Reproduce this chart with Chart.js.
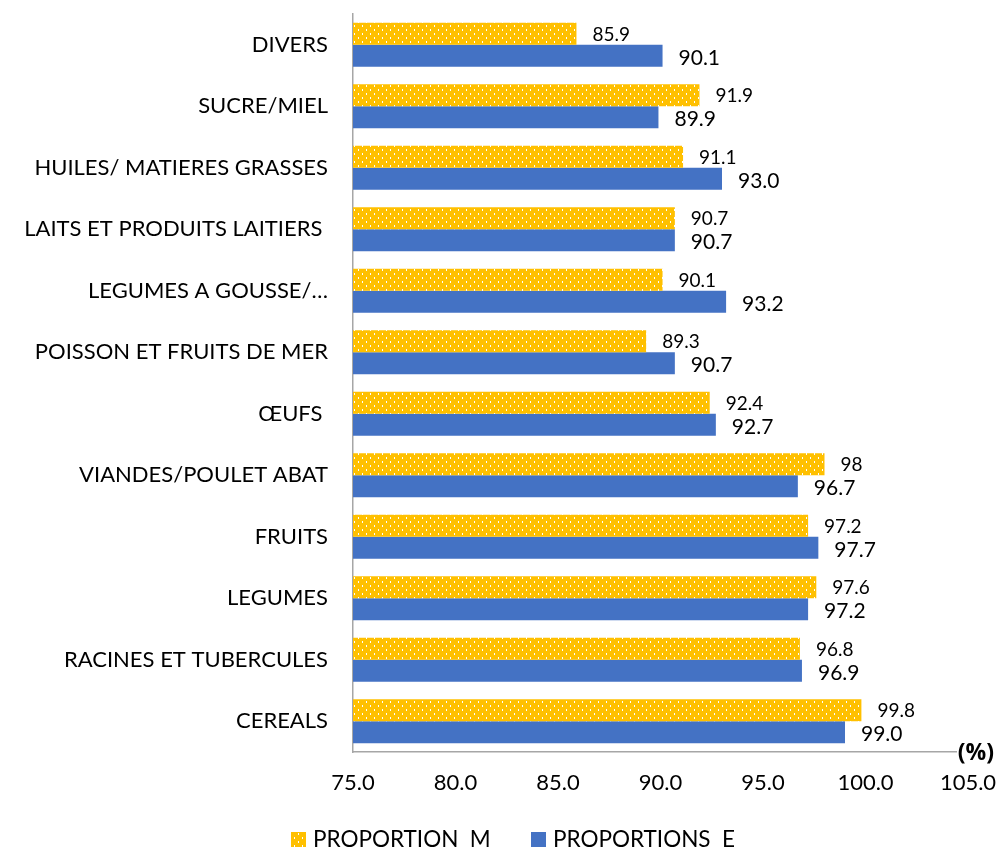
<!DOCTYPE html>
<html>
<head>
<meta charset="utf-8">
<script src="https://cdn.jsdelivr.net/npm/chart.js@4"></script>
<style>
html,body{margin:0;padding:0;background:#fff;}
#wrap{width:996px;height:849px;}
</style>
</head>
<body>
<div id="wrap"><canvas id="c" width="996" height="849"></canvas></div>
<script>
const categories = ["DIVERS","SUCRE/MIEL","HUILES/ MATIERES GRASSES","LAITS ET PRODUITS LAITIERS ","LEGUMES A GOUSSE/…","POISSON ET FRUITS DE MER","ŒUFS ","VIANDES/POULET ABAT","FRUITS","LEGUMES","RACINES ET TUBERCULES","CEREALS"];
const proportionM = [85.9, 91.9, 91.1, 90.7, 90.1, 89.3, 92.4, 98, 97.2, 97.6, 96.8, 99.8];
const proportionE = [90.1, 89.9, 93.0, 90.7, 93.2, 90.7, 92.7, 96.7, 97.7, 97.2, 96.9, 99.0];
const labelsM = ["85.9","91.9","91.1","90.7","90.1","89.3","92.4","98","97.2","97.6","96.8","99.8"];
const labelsE = ["90.1","89.9","93.0","90.7","93.2","90.7","92.7","96.7","97.7","97.2","96.9","99.0"];
const seriesNames = ["PROPORTION  M","PROPORTIONS  E"];
const xTicks = [75,80,85,90,95,100,105];

const FONT = "Lato, 'Open Sans', sans-serif";

function makePattern(){
  const p = document.createElement('canvas');
  p.width = 8; p.height = 8;
  const g = p.getContext('2d');
  g.fillStyle = '#FFC000';
  g.fillRect(0,0,8,8);
  g.fillStyle = '#FFFFFF';
  g.fillRect(2,1,1,2);
  g.fillRect(6,5,1,2);
  return document.getElementById('c').getContext('2d').createPattern(p,'repeat');
}
const pat = makePattern();
const colors = [pat, '#4472C4'];

const labelPlugin = {
  id:'vlabels',
  afterDatasetsDraw(chart){
    const ctx = chart.ctx;
    ctx.save();
    ctx.fillStyle = '#000';
    ctx.textBaseline = 'middle';
    ctx.textAlign = 'left';
    const sets = [[0, labelsM, 19, 1], [1, labelsE, 21, 2]];
    sets.forEach(([di, labs, fs, dy])=>{
      const meta = chart.getDatasetMeta(di);
      ctx.font = fs + 'px ' + FONT;
      meta.data.forEach((bar,i)=>{
        ctx.fillText(labs[i], bar.x + 16, bar.y + dy);
      });
    });
    // (%) unit at end of the x axis
    ctx.fillStyle = '#fff';
    ctx.fillRect(957, chart.chartArea.bottom - 2, 40, 6);
    ctx.fillStyle = '#000';
    ctx.font = "bold 23px 'Open Sans', sans-serif";
    ctx.textAlign = 'right';
    ctx.fillText('(%)', 994, chart.chartArea.bottom + 1);
    // legend
    const ly = 839;
    const items = [[291, 313], [531, 553]];
    ctx.font = '22.5px ' + FONT;
    ctx.textAlign = 'left';
    items.forEach(([bx, tx], k)=>{
      ctx.fillStyle = colors[k];
      ctx.fillRect(bx, ly - 7, 15, 15);
      ctx.fillStyle = '#000';
      ctx.fillText(seriesNames[k], tx, ly + 1);
    });
    ctx.restore();
  }
};

new Chart(document.getElementById('c'), {
  type:'bar',
  data:{
    labels: categories,
    datasets:[
      {label: seriesNames[0], data: proportionM, backgroundColor: colors[0], borderWidth:0},
      {label: seriesNames[1], data: proportionE, backgroundColor: colors[1], borderWidth:0}
    ]
  },
  options:{
    indexAxis:'y',
    responsive:false,
    animation:false,
    devicePixelRatio:1,
    layout:{padding:{top:14,right:28,left:0,bottom:42}},
    datasets:{bar:{categoryPercentage:0.715, barPercentage:1.0}},
    plugins:{
      legend:{display:false},
      tooltip:{enabled:false}
    },
    scales:{
      x:{
        min:75, max:105,
        afterBuildTicks(s){ s.ticks = xTicks.map(v=>({value:v})); },
        afterFit(s){ s.height = 55; s.paddingLeft = 0; s.paddingRight = 0; },
        grid:{display:false, drawTicks:false},
        border:{display:true, color:'#a6a6a6', width:1.5},
        ticks:{
          padding:18,
          color:'#000',
          font:{family:FONT, size:22},
          callback:(v)=>Number(v).toFixed(1)
        }
      },
      y:{
        grid:{display:false, drawTicks:false},
        border:{display:true, color:'#a6a6a6', width:1.5},
        afterFit(s){ s.width = 353; s.paddingTop = 0; s.paddingBottom = 0; },
        ticks:{
          padding:25,
          color:'#000',
          font:{family:FONT, size:22},
          autoSkip:false
        }
      }
    }
  },
  plugins:[labelPlugin]
});
</script>
</body>
</html>
